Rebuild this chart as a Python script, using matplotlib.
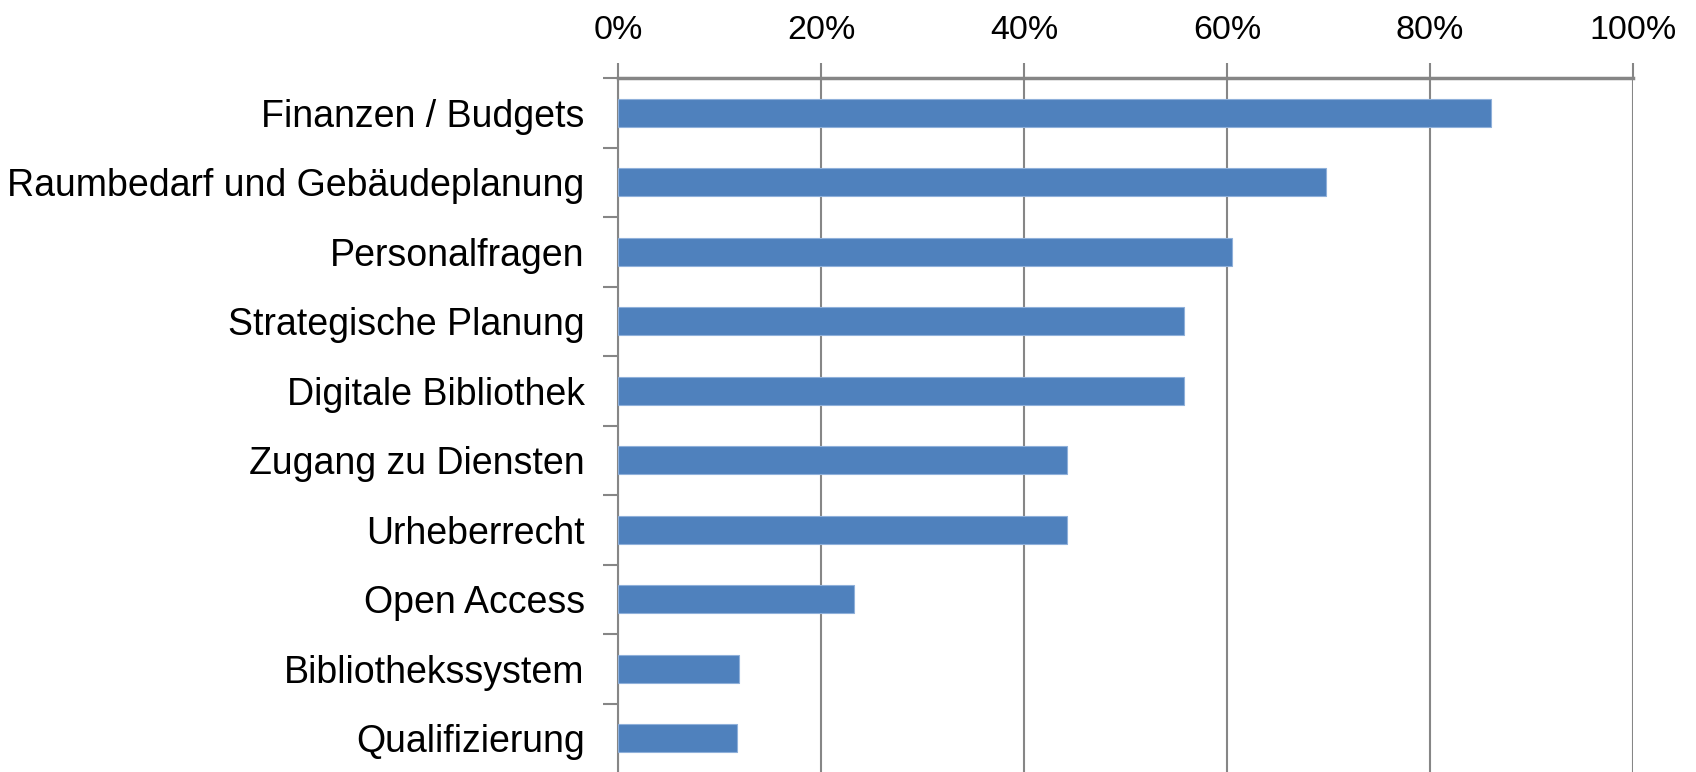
import matplotlib.pyplot as plt
from matplotlib.ticker import FixedLocator, PercentFormatter

plt.rcParams['font.family'] = ['Liberation Sans', 'DejaVu Sans']

themen = ["Finanzen / Budgets", "Raumbedarf und Gebäudeplanung", "Personalfragen",
          "Strategische Planung", "Digitale Bibliothek", "Zugang zu Diensten",
          "Urheberrecht", "Open Access", "Bibliothekssystem", "Qualifizierung"]
anteile = [0.860, 0.698, 0.605, 0.558, 0.558, 0.442, 0.442, 0.233, 0.119, 0.117]
x_ticks = [0, 0.2, 0.4, 0.6, 0.8, 1.0]

bar_col = "#4F81BD"
grid_col = "#868686"

fig = plt.figure(figsize=(16.96, 7.72), dpi=100)
ax = fig.add_axes([618/1696, 0, (1633-618)/1696, 1-78/772])

pos = list(range(len(themen)))
ax.barh(pos, anteile, height=0.4, color=bar_col, edgecolor="#8FB0DA", linewidth=0.8, zorder=3)

ax.set_xlim(0, 1)
ax.set_ylim(-0.5 + 694/69.5, -0.5)

ax.xaxis.tick_top()
ax.set_xticks(x_ticks)
ax.xaxis.set_major_formatter(PercentFormatter(1.0, decimals=0))
ax.tick_params(axis='x', length=11, width=1.5, color=grid_col, labelsize=24.5, pad=12)
ax.grid(axis='x', color=grid_col, linewidth=1.5, zorder=1)

ax.set_yticks(pos)
ax.set_yticklabels(themen)
ax.yaxis.set_minor_locator(FixedLocator([p + 0.5 for p in pos] + [-0.5]))
ax.tick_params(axis='y', which='major', length=0, labelsize=27, pad=24)
ax.tick_params(axis='y', which='minor', length=11, width=1.5, color=grid_col)

for s in ['right', 'bottom']:
    ax.spines[s].set_visible(False)
ax.spines['top'].set_color(grid_col)
ax.spines['top'].set_linewidth(2.5)
ax.spines['left'].set_color(grid_col)
ax.spines['left'].set_linewidth(1.5)

fig.savefig("out.png", dpi=100)
